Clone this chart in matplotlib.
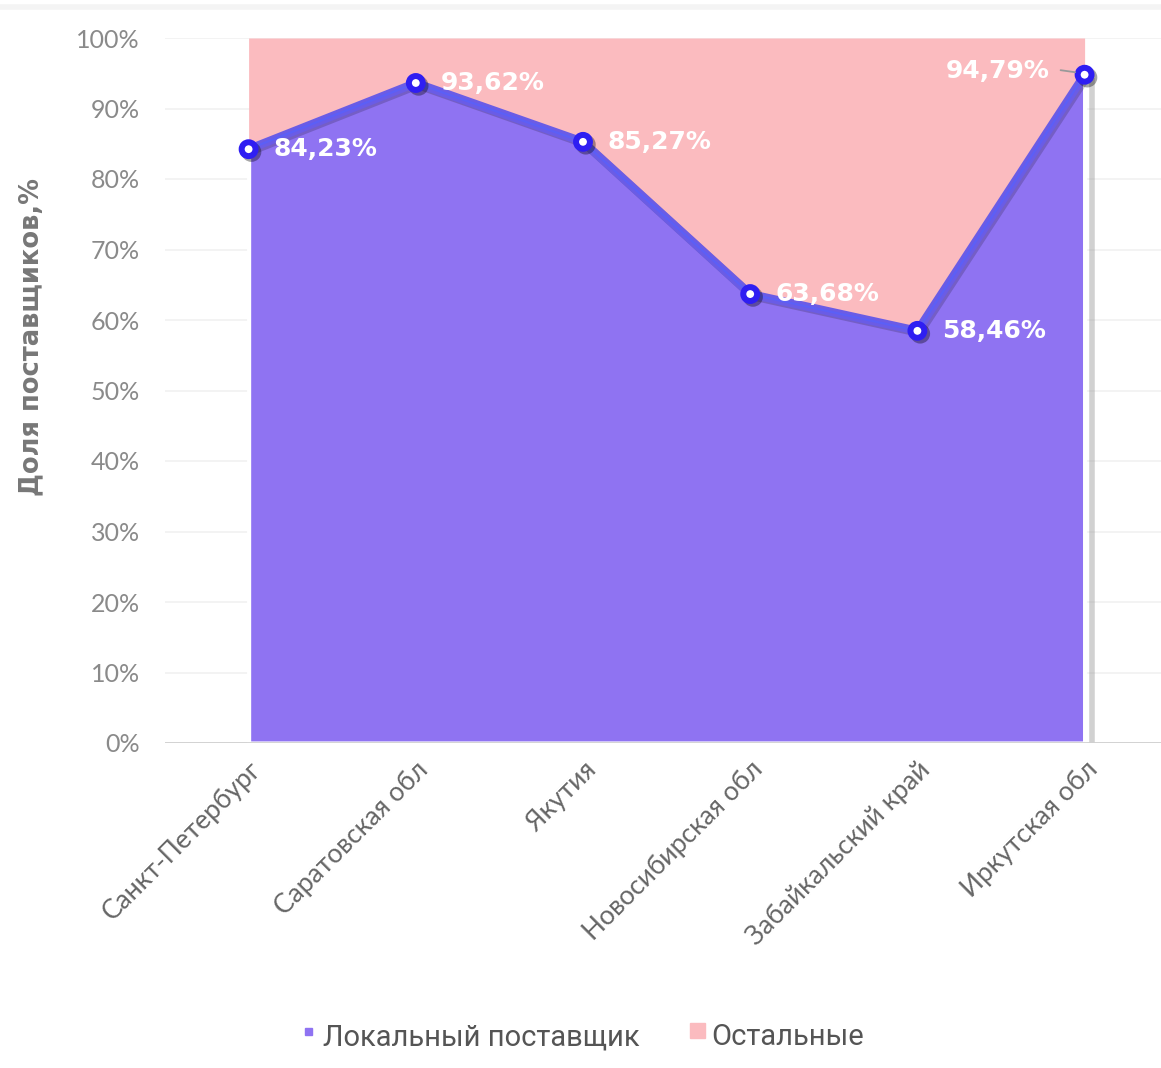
import matplotlib
matplotlib.use("Agg")
import matplotlib.pyplot as plt
import matplotlib.patheffects as pe
from matplotlib.patches import Rectangle
import numpy as np

categories = ["Санкт-Петербург", "Саратовская обл", "Якутия",
              "Новосибирская обл", "Забайкальский край", "Иркутская обл"]
local_share = [84.23, 93.62, 85.27, 63.68, 58.46, 94.79]
others_share = [100 - v for v in local_share]
value_labels = ["84,23%", "93,62%", "85,27%", "63,68%", "58,46%", "94,79%"]
y_ticks = [0, 10, 20, 30, 40, 50, 60, 70, 80, 90, 100]
legend_names = ["Локальный поставщик", "Остальные"]

W, H = 1161, 1068
fig = plt.figure(figsize=(W / 100, H / 100), dpi=100)
fig.patch.set_facecolor("white")

left, right, top, bottom = 165, 1161, 38, 743
ax = fig.add_axes([left / W, 1 - bottom / H, (right - left) / W, (bottom - top) / H])
step = 167.2
x = np.arange(len(categories))
ax.set_xlim(-0.5, -0.5 + (right - left) / step)
ax.set_ylim(0, 100)

purple = "#8f73f2"
pink = "#fbbbbf"
base = np.array(local_share)
ax.fill_between(x, base, 100, color=pink, lw=0, zorder=2)
ax.fill_between(x, 0, base, facecolor=purple, edgecolor="white", lw=3, zorder=3)
# shadow on right edge
ax.plot([5.045, 5.045], [0, 94.3], color="#9a9a9a", lw=4, alpha=0.45, zorder=2.5,
        solid_capstyle="butt")

# grid
for t in y_ticks:
    ax.axhline(t, color="#f1f1f1", lw=1.2, zorder=1)
ax.axhline(0, color="#d0d0d0", lw=2, zorder=4)

shadow = [pe.SimpleLineShadow(offset=(1.5, -1.5), shadow_color="#000000", alpha=0.18), pe.Normal()]
ax.plot(x, local_share, color="#6a5ce6", lw=6, zorder=5, path_effects=shadow,
        solid_joinstyle="round")
ax.plot(x, local_share, color="#5c5ff6", lw=1.6, zorder=6)
ax.plot(x, local_share, ls="none", marker="o", ms=10, mew=4.3, mfc="white",
        mec="#2f1ef2", zorder=7,
        path_effects=[pe.SimpleLineShadow(offset=(2, -2), alpha=0.35), pe.Normal()])

lab_font = dict(color="white", fontsize=18, fontweight="bold", family="DejaVu Sans", zorder=8)
for i, (v, s) in enumerate(zip(local_share, value_labels)):
    if i == 5:
        ax.annotate(s, xy=(i, v), xytext=(-25, 3), textcoords="offset points",
                    ha="right", va="center", **lab_font)
        ax.annotate("", xy=(i - 0.04, v + 0.3), xytext=(i - 0.16, v + 0.7),
                    arrowprops=dict(arrowstyle="-", color="#999999", lw=1.3), zorder=8)
    else:
        ax.annotate(s, xy=(i, v), xytext=(18, 0), textcoords="offset points",
                    ha="left", va="center", **lab_font)

for sp in ax.spines.values():
    sp.set_visible(False)
ax.set_yticks(y_ticks)
ax.set_yticklabels([f"{t}%" for t in y_ticks], fontsize=18, color="#8a8a8a",
                   family=["Lato", "DejaVu Sans"])
ax.set_xticks(x)
ax.set_xticklabels(categories, rotation=45, ha="right", va="top",
                   rotation_mode="anchor", fontsize=19, color="#666666",
                   family=["Lato", "DejaVu Sans"])
ax.tick_params(axis="both", length=0)
ax.tick_params(axis="y", pad=18)
ax.tick_params(axis="x", pad=10)
ax.set_ylabel("Доля поставщиков,%", fontsize=18.5, fontweight="bold", color="#777777")
ax.yaxis.set_label_coords((44 - left) / (right - left), (bottom - 337) / (bottom - top))

# top faint band
fig.add_artist(plt.Line2D([0, 1], [1 - 7 / H, 1 - 7 / H], color="#f4f4f4", lw=4,
                          transform=fig.transFigure))

# legend
ly = 1 - 1037 / H
fig.add_artist(Rectangle((305 / W, 1 - 1035 / H), 7 / W, 7 / H, color=purple,
                         transform=fig.transFigure))
fig.text(323 / W, ly, legend_names[0], fontsize=21, color="#555555", va="center",
         ha="left", family=["Liberation Sans Narrow", "Roboto"])
fig.add_artist(Rectangle((690 / W, 1 - 1038 / H), 15 / W, 15 / H, color=pink,
                         transform=fig.transFigure))
fig.text(711 / W, ly, legend_names[1], fontsize=21, color="#555555", va="center",
         ha="left", family=["Liberation Sans Narrow", "Roboto"])

fig.savefig("out.png", dpi=100)
